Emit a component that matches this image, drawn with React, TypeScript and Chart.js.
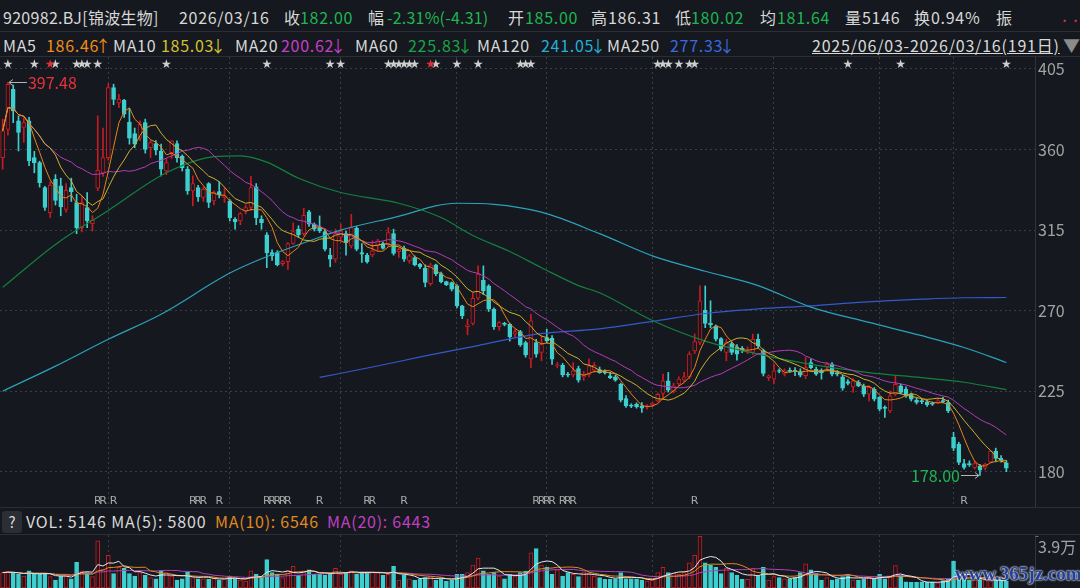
import React, { useEffect, useRef } from "react";
import { Chart, registerables } from "chart.js";

Chart.register(...registerables);

// ---------------- data ----------------
const opens = [
  355.5, 371.3, 393.7, 376.0, 372.3, 376.0, 355.5, 352.7, 338.7, 324.8,
  343.4, 339.7, 326.6, 338.7, 330.4, 316.4, 327.6, 318.6, 338.4, 347.0,
  355.5, 394.6, 386.0, 387.5, 375.4, 368.9, 366.3, 375.0, 361.1, 363.3,
  359.2, 348.0, 358.3, 363.3, 356.4, 349.0, 336.9, 338.7, 333.2, 341.0,
  331.3, 336.5, 333.2, 331.3, 321.0, 320.1, 325.7, 327.6, 339.1, 321.0,
  312.3, 302.4, 302.4, 296.3, 297.4, 307.5, 315.5, 313.0, 325.2, 318.3,
  316.4, 314.1, 301.1, 298.7, 311.0, 313.0, 306.2, 316.0, 302.4, 301.1,
  301.1, 306.2, 307.5, 307.0, 313.0, 303.0, 304.8, 297.8, 299.7, 295.9,
  293.7, 285.1, 295.6, 290.7, 286.2, 285.7, 283.8, 272.7, 261.1, 262.8,
  276.9, 287.0, 283.8, 270.8, 261.0, 262.6, 262.4, 256.9, 258.3, 252.2,
  243.0, 252.2, 246.6, 255.0, 254.6, 239.2, 239.5, 234.5, 234.1, 237.7,
  233.0, 234.1, 236.7, 237.1, 235.8, 233.6, 233.0, 228.9, 220.9, 217.2,
  217.8, 216.8, 216.1, 217.4, 219.6, 223.7, 230.8, 225.2, 229.0, 231.2,
  233.0, 247.5, 252.2, 270.2, 263.0, 261.5, 254.4, 246.6, 251.6, 249.8,
  249.0, 246.9, 246.6, 254.0, 247.5, 232.6, 231.7, 236.4, 234.5, 236.7,
  236.7, 236.0, 233.6, 241.0, 237.3, 236.7, 238.6, 240.1, 235.4, 233.0,
  230.4, 227.4, 229.9, 228.0, 223.3, 226.1, 221.5, 215.9, 214.0, 223.3,
  228.0, 226.1, 223.3, 220.0, 219.6, 219.1, 218.1, 218.7, 219.6, 218.7,
  199.2, 195.4, 184.6, 184.6, 182.4, 183.3, 182.0, 185.5, 191.5, 187.5,
  185.0,
];
const highs = [
  377.0, 397.48, 396.0, 378.8, 377.8, 378.0, 359.0, 353.5, 339.5, 342.0,
  346.0, 344.0, 341.0, 344.0, 335.0, 334.0, 336.0, 323.0, 378.8, 372.0,
  396.8, 396.5, 390.8, 388.0, 383.0, 372.0, 376.0, 377.0, 365.0, 365.0,
  363.0, 355.0, 365.0, 364.8, 357.0, 350.5, 345.3, 340.0, 339.0, 341.5,
  337.0, 342.0, 338.7, 332.0, 322.0, 325.0, 329.0, 345.0, 341.0, 323.0,
  313.6, 304.0, 303.5, 298.0, 308.0, 319.0, 317.4, 327.2, 326.0, 319.0,
  322.9, 315.5, 304.8, 315.5, 318.3, 314.5, 323.8, 317.0, 307.5, 302.0,
  309.0, 309.9, 308.3, 316.4, 315.5, 305.0, 306.0, 301.5, 300.6, 296.5,
  295.6, 296.5, 296.0, 291.5, 286.5, 286.0, 284.5, 273.0, 265.2, 280.0,
  295.0, 295.0, 284.5, 271.5, 264.0, 263.5, 263.0, 259.5, 259.0, 253.0,
  268.0, 254.0, 256.0, 259.6, 256.0, 241.0, 240.5, 235.5, 241.0, 239.0,
  236.0, 242.9, 241.0, 238.5, 237.0, 235.5, 234.0, 229.5, 222.5, 218.0,
  218.5, 218.7, 217.5, 219.1, 224.0, 234.5, 235.5, 229.5, 233.0, 235.5,
  247.0, 257.0, 283.8, 283.8, 275.5, 262.0, 255.0, 254.0, 252.5, 251.0,
  250.0, 249.8, 256.9, 256.9, 248.5, 234.0, 240.0, 237.5, 237.5, 238.0,
  238.2, 237.5, 243.8, 242.9, 238.5, 237.5, 241.0, 241.0, 236.5, 234.0,
  231.5, 232.0, 231.0, 229.0, 228.0, 227.0, 222.0, 216.8, 225.2, 233.6,
  229.0, 227.5, 224.0, 221.0, 220.5, 220.0, 219.0, 221.0, 221.5, 220.0,
  202.0, 196.5, 187.0, 186.1, 185.8, 184.2, 184.8, 192.0, 193.2, 189.0,
  186.31,
];
const lows = [
  349.0, 368.0, 375.0, 359.2, 364.0, 351.0, 347.0, 339.0, 326.0, 322.0,
  329.0, 323.0, 325.0, 331.0, 313.0, 314.0, 316.4, 314.5, 337.0, 345.0,
  354.0, 385.0, 383.4, 378.0, 363.0, 361.0, 365.0, 358.0, 355.5, 357.0,
  345.3, 346.0, 355.0, 353.0, 348.0, 335.0, 328.5, 331.0, 331.0, 327.6,
  329.0, 333.0, 330.4, 320.1, 315.5, 318.0, 324.0, 326.0, 318.0, 315.5,
  294.0, 298.0, 295.0, 295.0, 293.0, 307.0, 311.0, 312.0, 317.0, 314.5,
  313.6, 303.4, 294.5, 297.0, 309.0, 301.0, 305.0, 303.4, 296.9, 296.5,
  300.0, 303.4, 304.3, 306.0, 301.0, 299.7, 297.5, 296.5, 295.0, 293.5,
  283.3, 284.0, 289.5, 285.5, 284.0, 281.0, 271.5, 265.5, 256.5, 262.0,
  276.0, 279.0, 269.5, 259.5, 259.0, 261.5, 253.0, 255.5, 250.0, 244.0,
  238.2, 244.0, 242.0, 252.0, 240.0, 238.0, 233.0, 233.0, 233.0, 230.0,
  231.0, 233.0, 235.5, 235.0, 234.5, 232.0, 230.5, 219.0, 216.0, 215.8,
  215.5, 213.1, 215.0, 216.5, 219.0, 220.5, 224.5, 224.0, 228.0, 230.0,
  232.0, 246.0, 251.0, 260.5, 260.5, 253.0, 247.5, 242.0, 245.5, 242.3,
  246.5, 246.0, 245.5, 249.0, 233.5, 231.0, 229.0, 235.2, 233.5, 235.5,
  233.6, 233.0, 232.0, 237.4, 233.8, 231.7, 237.5, 233.5, 233.5, 225.5,
  228.5, 224.3, 227.5, 222.0, 219.6, 219.5, 214.0, 210.3, 213.0, 222.5,
  223.5, 221.5, 219.5, 217.8, 218.0, 216.5, 217.0, 218.0, 218.5, 213.0,
  191.8, 184.0, 181.5, 183.0, 181.5, 178.0, 181.0, 185.0, 185.5, 185.3,
  180.02,
];
const closes = [
  370.4, 396.5, 381.6, 369.5, 375.0, 353.6, 352.7, 341.5, 327.6, 340.2,
  331.6, 328.0, 337.2, 336.5, 316.4, 330.4, 320.1, 320.5, 348.4, 355.5,
  394.6, 388.0, 388.0, 379.7, 366.3, 363.0, 374.1, 360.1, 363.9, 359.6,
  349.0, 352.7, 364.8, 355.5, 349.9, 336.9, 341.0, 333.5, 337.8, 330.4,
  335.9, 334.6, 334.1, 322.0, 319.7, 324.2, 327.6, 338.7, 322.0, 319.2,
  302.4, 300.6, 295.6, 297.4, 307.5, 314.1, 312.3, 323.3, 318.3, 315.5,
  314.5, 304.3, 298.7, 313.0, 314.5, 308.0, 316.4, 304.3, 301.5, 297.4,
  303.4, 309.0, 304.8, 313.6, 301.9, 304.2, 298.7, 300.6, 295.6, 294.4,
  285.7, 295.6, 290.7, 286.2, 284.4, 282.0, 272.7, 267.1, 262.1, 276.9,
  290.4, 281.0, 270.8, 261.0, 263.3, 262.3, 255.4, 258.3, 250.9, 245.3,
  264.3, 245.7, 251.2, 253.1, 242.9, 239.5, 234.1, 233.9, 236.4, 231.2,
  233.9, 239.2, 239.5, 235.4, 235.2, 232.6, 231.2, 220.0, 216.8, 216.6,
  216.3, 215.5, 216.8, 218.3, 223.3, 230.8, 225.6, 228.0, 231.7, 233.0,
  245.7, 252.7, 275.5, 262.8, 262.0, 254.0, 248.5, 252.2, 246.6, 245.7,
  247.5, 247.5, 254.0, 250.3, 234.9, 233.6, 236.4, 236.0, 236.4, 236.0,
  236.0, 234.0, 238.2, 238.2, 234.5, 235.4, 240.1, 234.5, 234.5, 226.7,
  229.3, 230.8, 228.0, 223.3, 227.1, 220.6, 215.0, 215.4, 222.4, 228.9,
  224.3, 222.4, 220.6, 218.7, 219.2, 217.4, 217.7, 219.6, 219.2, 214.0,
  193.2, 185.2, 182.4, 183.8, 184.6, 180.9, 184.3, 191.5, 187.5, 186.8,
  182.0,
];
const volumes = [
  11700, 12220, 11700, 10400, 9100, 13000, 10400, 10920, 10920, 8580,
  5980, 9100, 10400, 7020, 19500, 13000, 11700, 8580, 35620, 14300,
  24700, 10920, 15600, 14820, 10920, 9100, 11700, 9620, 7800, 7020,
  13000, 11700, 9100, 5980, 7020, 12220, 7800, 7020, 7020, 6500,
  7800, 5980, 7020, 9100, 7020, 5980, 5200, 13000, 10400, 9100,
  21580, 11700, 10400, 7800, 13000, 16380, 9620, 13000, 13780, 10400,
  10400, 9620, 10920, 14820, 10400, 11700, 13000, 10400, 12220, 11700,
  12220, 11700, 9620, 10400, 16380, 5980, 9620, 7020, 5980, 7020,
  7800, 9100, 5980, 7020, 5200, 5980, 10400, 10400, 11700, 17420,
  22620, 13000, 10400, 11700, 9100, 7020, 10400, 9100, 11700, 12740,
  26520, 29900, 17420, 15600, 10400, 13780, 9100, 11700, 10400, 8580,
  12220, 10400, 9100, 7800, 6500, 6500, 7020, 11700, 7020, 7020,
  7020, 5980, 5200, 5980, 11700, 15600, 11700, 11180, 10400, 12220,
  18980, 24700, 39000, 18980, 17420, 15600, 10920, 14820, 11700, 9620,
  6500, 6500, 14820, 9100, 15600, 5980, 8580, 7800, 7020, 7020,
  7800, 11700, 18200, 13780, 11180, 5980, 7800, 5980, 7020, 8580,
  10400, 5980, 5980, 7020, 9100, 7020, 10400, 7020, 9100, 16900,
  9620, 4700, 4200, 4200, 4700, 4400, 4400, 3900, 5700, 6800,
  20400, 10400, 7500, 6200, 6000, 6360, 6200, 5500, 6300, 5854,
  5146,
];

// long moving averages (index -> value)
const ma60Idx = [0, 10, 20, 31, 40, 45, 50, 56, 64, 75, 83, 89, 96, 102, 109, 113, 123, 133, 143, 153, 164, 174, 182, 190];
const ma60Val = [283, 307, 326, 347, 356, 356.5, 353, 344, 336, 330, 322, 312, 303, 294, 284, 280, 264.5, 253, 245.7, 240, 235.4, 232.6, 230, 225.83];
const ma120Idx = [0, 10, 20, 30, 43, 49, 60, 64, 74, 86, 93, 102, 113, 123, 133, 143, 153, 164, 174, 182, 190];
const ma120Val = [225, 239, 254, 268, 291, 299, 311, 315, 322, 330, 329.4, 325, 313, 300.6, 292, 284, 272, 263.4, 256, 249.4, 241.05];
const ma250Idx = [60, 70, 80, 90, 101, 113, 123, 133, 143, 153, 163, 174, 182, 190];
const ma250Val = [232.7, 238.5, 244.7, 250.5, 256.9, 259.8, 264, 268.4, 271, 272.7, 274.8, 276.4, 277.2, 277.33];

const priceTicks = [180, 225, 270, 315, 360, 405];
const volTicks = [39000];
const monthStarts = [20, 43, 64, 86, 103, 123, 146, 166, 180];
const starIdx = [1, 6, 10, 14, 15, 16, 18, 31, 50, 62, 64, 73, 74, 75, 76, 77, 78, 82, 86, 90, 98, 99, 100, 124, 125, 126, 128, 130, 131, 160, 170, 190];
const redStarIdx = [9, 81];
const rIdx = [18, 19, 21, 36, 37, 38, 41, 50, 51, 52, 53, 54, 60, 69, 70, 76, 101, 102, 103, 104, 106, 107, 108, 131, 182];

// ---------------- style ----------------
const BG = "#15181e";
const UP = "#cc1a21";
const DOWN = "#3ecfcf";
const GRID = "#3a3e47";
const SEP = "#30343c";
const WHITE = "#d8d8d8";
const GREEN = "#1db653";
const RED = "#e8333b";
const AXIS = "#a2a2a2";
const FONT = '"Noto Sans CJK SC", "Noto Sans", sans-serif';

function movingAvg(arr: number[], n: number): number[] {
  return arr.map((_, i) => {
    const s = Math.max(0, i - n + 1);
    let sum = 0;
    for (let j = s; j <= i; j++) sum += arr[j];
    return sum / (i - s + 1);
  });
}
function sparse(idx: number[], val: number[], len: number): (number | null)[] {
  const a: (number | null)[] = new Array(len).fill(null);
  idx.forEach((k, j) => (a[k] = val[j]));
  return a;
}

const N = closes.length;
const labels = closes.map((_, i) => String(i));
const isUp = closes.map((c, i) => c >= opens[i]);

const lineDs = (data: any[], color: string, smooth = false, width = 1) => ({
  type: "line" as const,
  data,
  borderColor: color,
  borderWidth: width,
  pointRadius: 0,
  fill: false,
  spanGaps: true,
  cubicInterpolationMode: smooth ? ("monotone" as const) : ("default" as const),
  tension: 0,
  order: 0,
});

const xAxis = () => ({
  type: "category" as const,
  offset: true,
  grid: { display: true, color: GRID, drawTicks: false, offset: false, lineWidth: 1 },
  border: { display: false, dash: [2, 3] },
  ticks: { display: false, autoSkip: false },
  afterBuildTicks: (s: any) => {
    s.ticks = monthStarts.map((v) => ({ value: v }));
  },
});

export default function App() {
  const mainRef = useRef<HTMLCanvasElement>(null);
  const volRef = useRef<HTMLCanvasElement>(null);

  useEffect(() => {
    document.body.style.margin = "0";
    document.body.style.background = BG;
    Chart.defaults.font.family = FONT;

    const ma5 = movingAvg(closes, 5);
    const ma10 = movingAvg(closes, 10);
    const ma20 = movingAvg(closes, 20);
    const vma5 = movingAvg(volumes, 5);
    const vma10 = movingAvg(volumes, 10);
    const vma20 = movingAvg(volumes, 20);

    const mainOverlay = {
      id: "mainOverlay",
      afterDatasetsDraw(chart: any) {
        const { ctx, chartArea, scales } = chart;
        const xs = scales.x;
        const ys = scales.y;
        ctx.save();
        const sx = Math.round(chartArea.right + 26) + 0.5;
        ctx.strokeStyle = SEP;
        ctx.lineWidth = 1;
        ctx.setLineDash([]);
        ctx.beginPath();
        ctx.moveTo(sx, 0);
        ctx.lineTo(sx, chart.height);
        ctx.stroke();
        // stars
        ctx.textAlign = "center";
        ctx.textBaseline = "middle";
        ctx.font = '12px "DejaVu Sans"';
        ctx.fillStyle = "#cfcfcf";
        starIdx.forEach((i) => ctx.fillText("★", xs.getPixelForValue(i), chartArea.top + 8));
        ctx.fillStyle = "#e0303a";
        redStarIdx.forEach((i) => ctx.fillText("★", xs.getPixelForValue(i), chartArea.top + 8));
        // R markers
        ctx.font = '11px "DejaVu Sans"';
        ctx.fillStyle = "#a8a8a8";
        rIdx.forEach((i) => ctx.fillText("R", xs.getPixelForValue(i), chartArea.bottom - 6));
        // extremes
        let imax = 0;
        let imin = 0;
        highs.forEach((h, i) => { if (h > highs[imax]) imax = i; });
        lows.forEach((l, i) => { if (l < lows[imin]) imin = i; });
        ctx.strokeStyle = "#b4b4b4";
        ctx.lineWidth = 1;
        let px = xs.getPixelForValue(imax);
        let py = Math.round(ys.getPixelForValue(highs[imax])) + 0.5;
        ctx.beginPath();
        ctx.moveTo(px + 1, py); ctx.lineTo(px + 19, py);
        ctx.moveTo(px + 1, py); ctx.lineTo(px + 5, py - 3);
        ctx.moveTo(px + 1, py); ctx.lineTo(px + 5, py + 3);
        ctx.stroke();
        ctx.font = "16px " + FONT;
        ctx.textAlign = "left";
        ctx.fillStyle = RED;
        ctx.fillText(highs[imax].toFixed(2), px + 20, py);
        px = xs.getPixelForValue(imin);
        py = Math.round(ys.getPixelForValue(lows[imin])) + 0.5;
        ctx.beginPath();
        ctx.moveTo(px - 19, py); ctx.lineTo(px - 1, py);
        ctx.moveTo(px - 1, py); ctx.lineTo(px - 5, py - 3);
        ctx.moveTo(px - 1, py); ctx.lineTo(px - 5, py + 3);
        ctx.stroke();
        ctx.textAlign = "right";
        ctx.fillStyle = GREEN;
        ctx.fillText(lows[imin].toFixed(2), px - 20, py);
        ctx.restore();
      },
    };

    const volOverlay = {
      id: "volOverlay",
      afterDatasetsDraw(chart: any) {
        const { ctx, chartArea, scales } = chart;
        ctx.save();
        const sx = Math.round(chartArea.right + 26) + 0.5;
        ctx.strokeStyle = SEP;
        ctx.lineWidth = 1;
        ctx.beginPath();
        ctx.moveTo(sx, 0);
        ctx.lineTo(sx, chart.height);
        ctx.stroke();
        // small tick mark of the volume axis
        ctx.strokeStyle = "#707070";
        volTicks.forEach((v) => {
          const ty = Math.round(scales.y.getPixelForValue(v)) + 0.5;
          ctx.beginPath();
          ctx.moveTo(sx, ty);
          ctx.lineTo(sx + 3, ty);
          ctx.stroke();
        });
        ctx.restore();
      },
    };

    const main = new Chart(mainRef.current as HTMLCanvasElement, {
      type: "bar",
      data: {
        labels,
        datasets: [
          lineDs(ma5, "#e8841c"),
          lineDs(ma10, "#cdb22e"),
          lineDs(ma20, "#b43cb8"),
          lineDs(sparse(ma60Idx, ma60Val, N), "#13803e", true, 1.2),
          lineDs(sparse(ma120Idx, ma120Val, N), "#2aa2bc", true, 1.2),
          lineDs(sparse(ma250Idx, ma250Val, N), "#3559cc", true, 1.2),
          {
            type: "bar",
            data: opens.map((o, i) => [o, closes[i]]),
            backgroundColor: isUp.map((u) => (u ? BG : DOWN)),
            borderColor: isUp.map((u) => (u ? UP : DOWN)),
            borderWidth: 1,
            borderSkipped: false,
            barThickness: 4,
            minBarLength: 1,
            grouped: false,
            order: 1,
          } as any,
          {
            type: "bar",
            data: lows.map((l, i) => [l, highs[i]]),
            backgroundColor: isUp.map((u) => (u ? UP : DOWN)),
            borderWidth: 0,
            barThickness: 1,
            grouped: false,
            order: 2,
          } as any,
        ],
      },
      options: {
        responsive: false,
        animation: false,
        events: [],
        layout: { padding: 0 },
        plugins: { legend: { display: false }, tooltip: { enabled: false }, title: { display: false } },
        scales: {
          x: xAxis() as any,
          y: {
            type: "linear",
            position: "right",
            min: 160.3,
            max: 411.7,
            grid: { color: GRID, drawTicks: true, tickLength: 26, tickColor: GRID, tickBorderDash: [2, 3] } as any,
            border: { display: false, dash: [2, 3] },
            ticks: { color: AXIS, font: { size: 16, family: FONT }, padding: 3, crossAlign: "near" } as any,
            afterBuildTicks: (s: any) => {
              s.ticks = priceTicks.map((v) => ({ value: v }));
            },
            afterFit: (s: any) => {
              s.width = 71;
              s.paddingTop = 0;
              s.paddingBottom = 0;
            },
          } as any,
        },
      },
      plugins: [mainOverlay],
    });

    const vol = new Chart(volRef.current as HTMLCanvasElement, {
      type: "bar",
      data: {
        labels,
        datasets: [
          lineDs(vma5, "#e6e6e6"),
          lineDs(vma10, "#e08a20"),
          lineDs(vma20, "#b040b8"),
          {
            type: "bar",
            data: volumes,
            backgroundColor: isUp.map((u) => (u ? BG : DOWN)),
            borderColor: isUp.map((u) => (u ? UP : DOWN)),
            borderWidth: 1,
            borderSkipped: false,
            barThickness: 4,
            grouped: false,
            order: 1,
          } as any,
        ],
      },
      options: {
        responsive: false,
        animation: false,
        events: [],
        layout: { padding: 0 },
        plugins: { legend: { display: false }, tooltip: { enabled: false }, title: { display: false } },
        scales: {
          x: xAxis() as any,
          y: {
            type: "linear",
            position: "right",
            min: 0,
            max: 40100,
            grid: { display: false, drawTicks: false },
            border: { display: false },
            ticks: {
              color: AXIS,
              font: { size: 16, family: FONT },
              padding: 29,
              labelOffset: 10,
              crossAlign: "near",
              callback: (v: any) => (Number(v) / 10000).toFixed(1) + "万",
            } as any,
            afterBuildTicks: (s: any) => {
              s.ticks = volTicks.map((v) => ({ value: v }));
            },
            afterFit: (s: any) => {
              s.width = 71;
              s.paddingTop = 0;
              s.paddingBottom = 0;
            },
          } as any,
        },
      },
      plugins: [volOverlay],
    });

    return () => {
      main.destroy();
      vol.destroy();
    };
  }, []);

  const T = (p: { x: number; y: number; c?: string; s?: number; ls?: number; children: any; st?: any }) => (
    <div
      style={{
        position: "absolute",
        left: p.x,
        top: p.y,
        color: p.c || WHITE,
        fontSize: p.s || 16,
        lineHeight: "20px",
        whiteSpace: "nowrap",
        letterSpacing: (p.ls === undefined ? 0.7 : p.ls) + "px",
        transform: "translateY(-50%)",
        ...(p.st || {}),
      }}
    >
      {p.children}
    </div>
  );
  const Arr = (p: { a: string }) => (
    <span style={{ marginLeft: -4, letterSpacing: 0 }}>{p.a}</span>
  );

  const hline = (y: number) => (
    <div style={{ position: "absolute", left: 0, top: y, width: 1080, height: 1, background: "#2a2e35" }} />
  );

  return (
    <div
      style={{
        position: "fixed",
        left: 0,
        top: 0,
        width: 1080,
        height: 588,
        background: BG,
        overflow: "hidden",
        fontFamily: FONT,
      }}
    >
      {/* header row */}
      <T x={3} y={17} ls={0.3}>920982.BJ[锦波生物]</T>
      <T x={179} y={17}>2026/03/16</T>
      <T x={284} y={17} ls={0}>收</T>
      <T x={300} y={17} c={GREEN}>182.00</T>
      <T x={368} y={17} ls={0}>幅</T>
      <T x={387} y={17} c={GREEN} ls={0.2}>-2.31%(-4.31)</T>
      <T x={508} y={17} ls={0}>开</T>
      <T x={525} y={17} c={GREEN}>185.00</T>
      <T x={591} y={17} ls={0}>高</T>
      <T x={608} y={17}>186.31</T>
      <T x={675} y={17} ls={0}>低</T>
      <T x={691} y={17} c={GREEN}>180.02</T>
      <T x={760} y={17} ls={0}>均</T>
      <T x={777} y={17} c={GREEN}>181.64</T>
      <T x={845} y={17} ls={0}>量</T>
      <T x={862} y={17}>5146</T>
      <T x={914} y={17} ls={0}>换</T>
      <T x={931} y={17}>0.94%</T>
      <T x={996} y={17} ls={0}>振</T>
      <T x={1059} y={20} c={RED} s={11} ls={0}>•••</T>
      {hline(31)}

      {/* MA legend row */}
      <T x={3} y={45}>MA5</T>
      <T x={46} y={45} c="#f08c1c">186.46<Arr a="↑" /></T>
      <T x={113} y={45}>MA10</T>
      <T x={161} y={45} c="#d2c22e">185.03<Arr a="↓" /></T>
      <T x={235} y={45}>MA20</T>
      <T x={281} y={45} c="#c63fc8">200.62<Arr a="↓" /></T>
      <T x={355} y={45}>MA60</T>
      <T x={408} y={45} c="#19a34a">225.83<Arr a="↓" /></T>
      <T x={477} y={45}>MA120</T>
      <T x={541} y={45} c="#22b0d8">241.05<Arr a="↓" /></T>
      <T x={607} y={45}>MA250</T>
      <T x={670} y={45} c="#3a6be0">277.33<Arr a="↓" /></T>
      <T x={812} y={45} ls={0.8} st={{ textDecoration: "underline" }}>2025/06/03-2026/03/16(191日)</T>
      <T x={1063} y={45} c="#8a8a8a" s={17} ls={0}>▼</T>
      {hline(56)}

      <canvas
        ref={mainRef}
        width={1080}
        height={450}
        style={{ position: "absolute", left: 0, top: 57, width: 1080, height: 450, display: "block" }}
      />
      {hline(507)}

      {/* volume header */}
      <div
        style={{
          position: "absolute",
          left: 2,
          top: 511,
          width: 20,
          height: 22,
          background: "#2b2e35",
          borderRadius: 3,
          color: WHITE,
          fontSize: 15,
          lineHeight: "22px",
          textAlign: "center",
        }}
      >
        ?
      </div>
      <T x={26} y={521} ls={0.85}>VOL: 5146 MA(5): 5800</T>
      <T x={215} y={521} c="#e08a20" ls={0.75}>MA(10): 6546</T>
      <T x={327} y={521} c="#c040c0" ls={0.75}>MA(20): 6443</T>
      {hline(534)}

      <canvas
        ref={volRef}
        width={1080}
        height={53}
        style={{ position: "absolute", left: 0, top: 535, width: 1080, height: 53, display: "block" }}
      />

      {/* watermark */}
      <div
        style={{
          position: "absolute",
          left: 955,
          top: 564,
          fontFamily: '"Liberation Serif", serif',
          fontWeight: "bold",
          fontSize: 19,
          lineHeight: "20px",
          color: "#1f3f9e",
          textShadow: "0 0 2px #ffffff, 0 0 2px #ffffff",
          whiteSpace: "nowrap",
        }}
      >
        www.365jz.com
      </div>
    </div>
  );
}
